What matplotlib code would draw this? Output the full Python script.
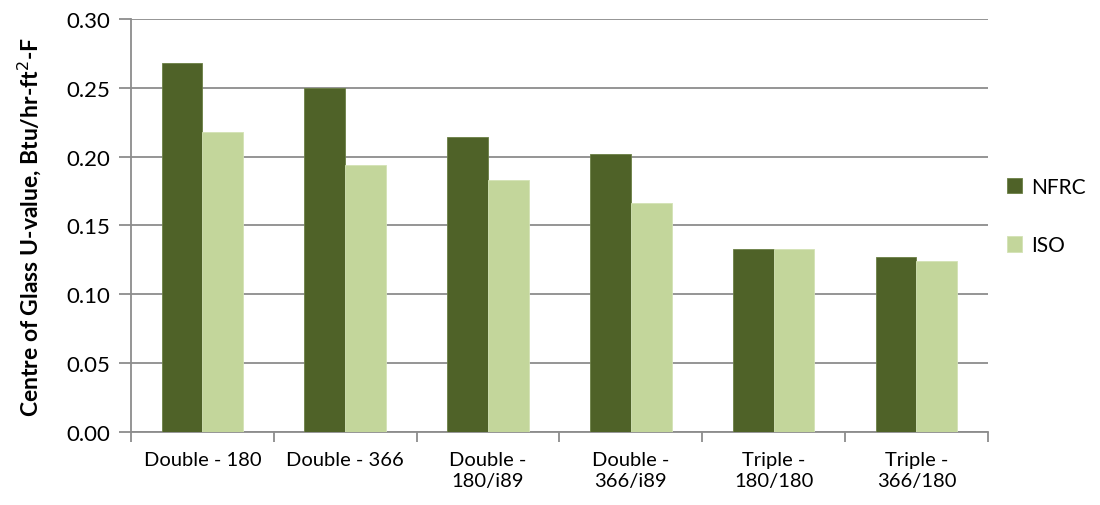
import numpy as np
import matplotlib.pyplot as plt
from matplotlib.ticker import FixedLocator, MultipleLocator

plt.rcParams['font.family'] = ['Lato', 'DejaVu Sans']

categories = ['Double - 180', 'Double - 366', 'Double -\n180/i89',
              'Double -\n366/i89', 'Triple -\n180/180', 'Triple -\n366/180']
nfrc = [0.268, 0.250, 0.214, 0.202, 0.133, 0.127]
iso = [0.218, 0.194, 0.183, 0.166, 0.133, 0.124]

DARK = '#4F6228'
LIGHT = '#C3D69B'
GRID = '#8C8C8C'

fig = plt.figure(figsize=(11, 5.06), dpi=100)
ax = fig.add_axes([0.1191, 0.1443, 0.898 - 0.1191, 0.9605 - 0.1443])

x = np.arange(len(categories))
w = 1 / 3.5
ax.bar(x - w / 2, nfrc, w, color=DARK, edgecolor='#6b7f45', linewidth=0.6, label='NFRC', zorder=3)
ax.bar(x + w / 2, iso, w, color=LIGHT, edgecolor='#d3e2b5', linewidth=0.6, label='ISO', zorder=3)

ax.set_xlim(-0.5, len(categories) - 0.5)
ax.set_ylim(0, 0.30)
ax.yaxis.set_major_locator(MultipleLocator(0.05))
ax.yaxis.set_major_formatter(lambda v, p: f'{v:.2f}')
ax.grid(axis='y', color=GRID, linewidth=1.3, zorder=0)

ax.set_xticks(x)
ax.set_xticklabels(categories, fontsize=14.5, linespacing=1.25)
ax.xaxis.set_minor_locator(FixedLocator(np.arange(-0.5, len(categories), 1.0)))
ax.tick_params(axis='x', which='major', length=0, pad=14)
ax.tick_params(axis='x', which='minor', length=7, width=1.3, color=GRID)
ax.tick_params(axis='y', length=9, width=1.3, color=GRID, labelsize=16, pad=6)

for s in ['top', 'right']:
    ax.spines[s].set_visible(False)
for s in ['left', 'bottom']:
    ax.spines[s].set_color(GRID)
    ax.spines[s].set_linewidth(1.3)

ax.set_ylabel('Centre of Glass U-value, Btu/hr-ft$^{2}$-F', fontsize=16.5,
              fontweight='bold')
ax.yaxis.set_label_coords(-0.103, 0.5)

ax.legend(loc='center left', bbox_to_anchor=(1.0, 0.523), frameon=False,
          fontsize=15, handlelength=0.75, handleheight=0.75, labelspacing=1.85,
          handletextpad=0.45)

fig.savefig('out.png', dpi=100)
